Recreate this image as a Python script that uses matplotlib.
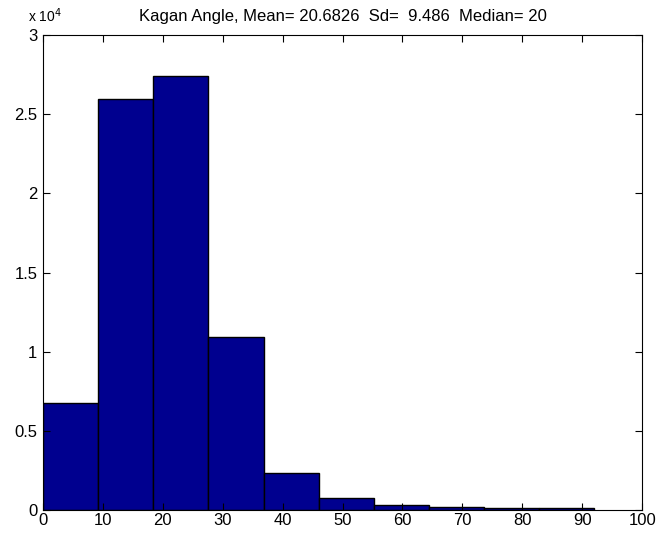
import numpy as np
import matplotlib
matplotlib.use('Agg')
import matplotlib.pyplot as plt
from matplotlib.ticker import FuncFormatter

# histogram of Kagan angles, 10 bins between min and max angle
angle_min, angle_max = 0.0, 92.0
counts = [6780, 25950, 27450, 10950, 2330, 760, 300, 210, 160, 140]
title = 'Kagan Angle, Mean= 20.6826  Sd=  9.486  Median= 20'

plt.rcParams['font.family'] = ['Liberation Sans', 'DejaVu Sans']
plt.rcParams['font.size'] = 12

edges = np.linspace(angle_min, angle_max, len(counts) + 1)
width = edges[1] - edges[0]

fig = plt.figure(figsize=(6.62, 5.33), dpi=100)
ax = fig.add_axes([0.065, 0.043, 0.905, 0.891])

ax.bar(edges[:-1], counts, width=width, align='edge',
       color='#00008f', edgecolor='black', linewidth=1.0)

ax.set_xlim(0, 100)
ax.set_ylim(0, 30000)
ax.set_xticks(np.arange(0, 101, 10))
ax.set_yticks(np.arange(0, 30001, 5000))
ax.yaxis.set_major_formatter(FuncFormatter(lambda v, p: '%g' % (v / 1e4)))

ax.tick_params(direction='in', length=5, width=0.8, top=True, right=True,
               labelsize=12)
ax.tick_params(axis='x', pad=2)
ax.tick_params(axis='y', pad=4)
for s in ax.spines.values():
    s.set_linewidth(0.8)

ax.text(-0.025, 1.022, r'x 10$^4$', transform=ax.transAxes,
        ha='left', va='bottom', fontsize=10)
ax.set_title(title, fontsize=12, pad=10)

plt.savefig('out.png', dpi=100)
